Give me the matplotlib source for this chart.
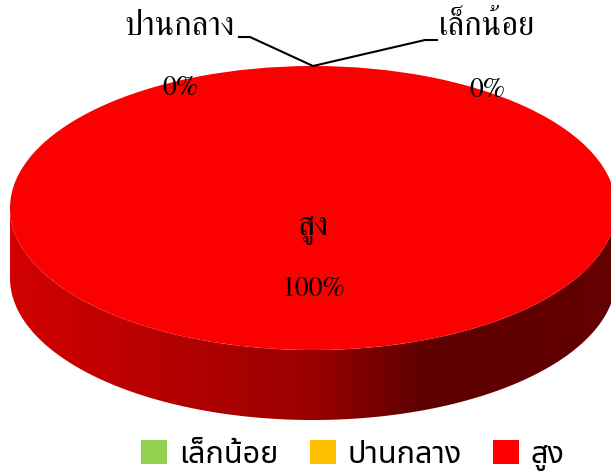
import numpy as np
import matplotlib
matplotlib.use("Agg")
from matplotlib import pyplot as plt
from matplotlib.colors import LinearSegmentedColormap
from matplotlib.patches import Polygon

# data
categories = ["เล็กน้อย", "ปานกลาง", "สูง"]
values = [0, 0, 100]
colors = ["#92d050", "#ffc000", "#fb0000"]

W, H = 611, 473
serif = ["FreeSerif", "DejaVu Serif"]
sans = ["Noto Sans Thai", "DejaVu Sans"]

fig = plt.figure(figsize=(W / 100, H / 100), dpi=100)
ax = fig.add_axes([0, 0, 1, 1])

wedges, _ = ax.pie(values, colors=colors, startangle=90, counterclock=False,
                   wedgeprops=dict(linewidth=0, zorder=3))

# squash the circle into a tilted ellipse (pixels per unit: 303 x 142)
cx, cy, rx, ry = 313, 208, 303, 142
ax.set_aspect("auto")
ax.axis("off")

# 3d side of the pie
depth = 70 / ry
side_cmap = LinearSegmentedColormap.from_list(
    "side", [(0, "#d20000"), (0.5, "#9a0000"), (0.68, "#5e0000"), (1, "#640000")])
grad = np.linspace(0, 1, 256).reshape(1, -1)
for w in wedges:
    t = np.radians(np.linspace(w.theta1, w.theta2, 721))
    t = t[np.sin(t) <= 0]
    if len(t) < 2:
        continue
    top = np.column_stack([np.cos(t), np.sin(t)])
    bot = np.column_stack([np.cos(t), np.sin(t) - depth])[::-1]
    poly = Polygon(np.vstack([top, bot]), closed=True, facecolor="none", edgecolor="none")
    ax.add_patch(poly)
    im = ax.imshow(grad, cmap=side_cmap, aspect="auto", extent=[-1, 1, -1 - depth, 0],
                   zorder=2, interpolation="bilinear")
    im.set_clip_path(poly)
ax.set_xlim(-cx / rx, (W - cx) / rx)
ax.set_ylim(-(H - cy) / ry, cy / ry)


def px(x, y):
    return ((x - cx) / rx, (cy - y) / ry)


thai_fs = 23.5
num_fs = 20

# data labels
total = sum(values)
for name, v, w in zip(categories, values, wedges):
    pct = "%d%%" % round(100 * v / total)
    if v == 0:
        continue
    ax.text(*px(313, 229), name, ha="center", va="center", fontsize=thai_fs, family=serif, zorder=5)
    ax.text(*px(314, 289), pct, ha="center", va="center", fontsize=num_fs, family=serif, zorder=5)

# zero slices sit at the start angle -> leader lines to the rim
tip = (np.cos(np.radians(wedges[0].theta1)), np.sin(np.radians(wedges[0].theta1)))
ax.text(*px(235, 27), categories[1], ha="right", va="center", fontsize=thai_fs, family=serif, zorder=5)
ax.text(*px(180, 88), "%d%%" % values[1], ha="center", va="center", fontsize=num_fs, family=serif, zorder=5)
ax.plot([px(239, 37)[0], px(250, 37)[0], tip[0]], [px(239, 37)[1], px(250, 37)[1], tip[1]],
        color="black", lw=1.5, zorder=4, solid_joinstyle="miter")

ax.text(*px(439, 27), categories[0], ha="left", va="center", fontsize=thai_fs, family=serif, zorder=5)
ax.text(*px(487, 90), "%d%%" % values[0], ha="center", va="center", fontsize=num_fs, family=serif, zorder=5)
ax.plot([tip[0], px(425, 40)[0], px(437, 40)[0]], [tip[1], px(425, 40)[1], px(437, 40)[1]],
        color="black", lw=1.5, zorder=4, solid_joinstyle="miter")

fig.legend(wedges, categories, loc="center", bbox_to_anchor=(353 / W, 18 / H), ncol=3,
           frameon=False, handlelength=0.85, handleheight=0.85, handletextpad=0.4,
           columnspacing=1.0, prop=dict(family=sans, size=22))

fig.savefig("out.png", dpi=100)
